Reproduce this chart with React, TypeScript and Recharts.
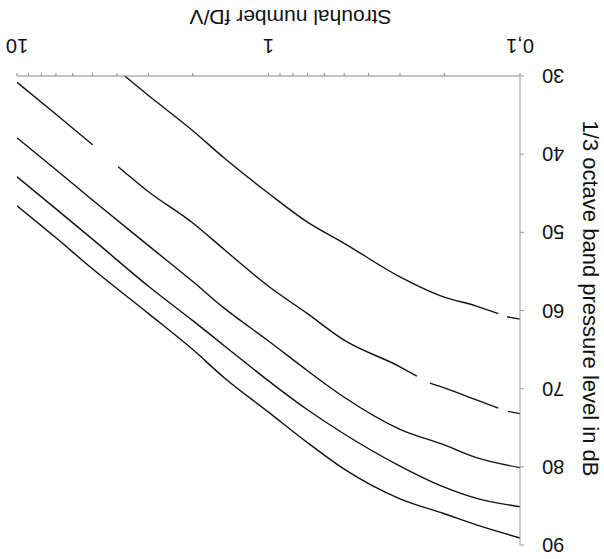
import React from "react";
import { LineChart, Line, XAxis, YAxis, Label } from "recharts";

// Strouhal numbers and band levels (five curves)
const stA = [3.73, 3, 2, 1.5, 1, 0.7, 0.5, 0.3, 0.2, 0.15, 0.122, 0.117, 0.1126, 0.1];
const dbA = [30, 32.5, 37.0, 40.5, 45.0, 48.7, 51.4, 55.7, 58.3, 59.4, 60.4, null, 60.8, 61.1];

const stB = [10, 7, 5, 4.4, 3.96, 3, 2, 1.5, 1, 0.7, 0.5, 0.3, 0.257, 0.24, 0.228, 0.2, 0.15, 0.122, 0.117, 0.1116, 0.1];
const dbB = [30.8, 34.9, 38.8, null, 41.6, 44.8, 48.8, 52.2, 56.9, 60.4, 63.8, 67.2, 68.4, null, 69.3, 69.9, 71.4, 72.5, null, 72.9, 73.2];

const stCDE = [10, 7, 5, 3, 2, 1.5, 1, 0.7, 0.5, 0.3, 0.2, 0.15, 0.1];
const dbC = [37.9, 42.0, 45.9, 51.7, 56.3, 59.7, 63.9, 67.7, 71.1, 75.2, 77.2, 78.8, 80.1];
const dbD = [42.9, 47.0, 50.9, 56.9, 61.3, 64.5, 69.0, 72.7, 75.8, 79.9, 82.6, 84.0, 85.1];
const dbE = [46.6, 50.7, 54.7, 60.4, 65.0, 68.6, 73.0, 76.9, 80.3, 84.1, 86.0, 87.4, 89.1];

const xTicks = [0.1, 0.2, 0.3, 0.4, 0.5, 0.6, 0.7, 0.8, 0.9, 1, 2, 3, 4, 5, 6, 7, 8, 9, 10];
const xLabels: Record<number, string> = { 0.1: "0,1", 1: "1", 10: "10" };
const yTicks = [30, 40, 50, 60, 70, 80, 90];

const toPts = (st: number[], db: (number | null)[]) =>
  st.map((s, i) => ({ st: s, db: db[i] }));

const series = [
  toPts(stA, dbA),
  toPts(stB, dbB),
  toPts(stCDE, dbC),
  toPts(stCDE, dbD),
  toPts(stCDE, dbE),
];

const FONT = "Liberation Sans, Arial, sans-serif";

const XTick = ({ x, y, payload }: any) => (
  <text x={x} y={y + 14} textAnchor="middle" fontSize={20} fontFamily={FONT} fill="#111">
    {xLabels[payload.value] ?? ""}
  </text>
);

const YTick = ({ x, y, payload }: any) => (
  <text x={x} y={y + 7} textAnchor="end" fontSize={20} fontFamily={FONT} fill="#111">
    {payload.value}
  </text>
);

// the source figure is printed upside down, so the whole chart is turned 180deg
export default function App() {
  return (
    <div
      style={{
        position: "absolute",
        left: 0,
        top: 0,
        width: 604,
        height: 559,
        background: "#fff",
        transform: "rotate(180deg)",
        fontFamily: FONT,
      }}
    >
      <LineChart
        width={604}
        height={559}
        margin={{ top: 14, right: 17, left: 0, bottom: 0 }}
        style={{ fontFamily: FONT }}
      >
        <XAxis
          type="number"
          dataKey="st"
          scale="log"
          domain={[0.1, 10]}
          ticks={xTicks}
          allowDataOverflow
          interval={0}
          height={76}
          tickSize={3}
          tickMargin={20}
          stroke="#888"
          tick={<XTick />}
        >
          <Label
            content={({ viewBox }: any) => (
              <text
                x={viewBox.x + viewBox.width / 2 - 22}
                y={549}
                textAnchor="middle"
                fontSize={21}
                fontFamily={FONT}
                fill="#111"
              >
                Strouhal number fD/V
              </text>
            )}
          />
        </XAxis>
        <YAxis
          type="number"
          domain={[30, 90]}
          ticks={yTicks}
          width={84}
          tickSize={4}
          tickMargin={18}
          stroke="#999"
          tick={<YTick />}
        >
          <Label
            content={({ viewBox }: any) => {
              const cx = 21;
              const cy = viewBox.y + viewBox.height / 2 + 12;
              return (
                <text
                  x={cx}
                  y={cy}
                  transform={`rotate(-90, ${cx}, ${cy})`}
                  textAnchor="middle"
                  fontSize={22}
                  fontFamily={FONT}
                  fill="#111"
                >
                  1/3 octave band pressure level in dB
                </text>
              );
            }}
          />
        </YAxis>
        {series.map((d, i) => (
          <Line
            key={i}
            data={d}
            dataKey="db"
            type="monotone"
            stroke="#111"
            strokeWidth={1.4}
            dot={false}
            activeDot={false}
            isAnimationActive={false}
          />
        ))}
      </LineChart>
    </div>
  );
}
